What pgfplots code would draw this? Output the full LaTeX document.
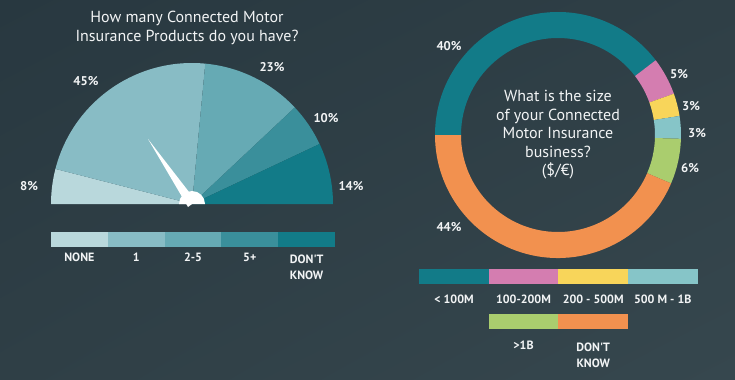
\documentclass[border=0pt]{standalone}
\usepackage{pgfplots}
\pgfplotsset{compat=1.18}
\usepackage{pgfplotstable}
\usetikzlibrary{shadings}
\usepackage{fontspec}
\setmainfont{PT Sans}
\definecolor{bgA}{HTML}{283840}
\definecolor{bgM}{HTML}{2F3F46}
\definecolor{bgB}{HTML}{36474E}
\definecolor{txt}{HTML}{F2F4F5}
\definecolor{g0}{HTML}{B9D8DC}
\definecolor{g1}{HTML}{88BCC5}
\definecolor{g2}{HTML}{66AAB4}
\definecolor{g3}{HTML}{3A8F9B}
\definecolor{g4}{HTML}{127B88}
\definecolor{d0}{HTML}{127B88}
\definecolor{d1}{HTML}{D47DB0}
\definecolor{d2}{HTML}{F8D55A}
\definecolor{d3}{HTML}{86C5C8}
\definecolor{d4}{HTML}{AACD6E}
\definecolor{d5}{HTML}{F2914F}
\tikzset{
  pct/.style={font=\bfseries\fontsize{9.5}{11}\selectfont, text=txt},
  leg/.style={font=\bfseries\fontsize{9}{12}\selectfont, text=txt, align=center},
  ttl/.style={font=\fontsize{12}{13.7}\selectfont, text=txt, align=center}}
\pgfplotstableread{
label value
NONE 8
1 45
2-5 23
5+ 10
DK 14
}\gaugedata
\pgfplotstableread{
label value
lt100M 40
100-200M 5
200-500M 3
500M-1B 3
gt1B 6
DK 44
}\donutdata
\begin{document}
\begin{tikzpicture}
\shade[upper left=bgA, lower right=bgB, upper right=bgM, lower left=bgM] (0,0) rectangle (551.25pt,284.25pt);
\useasboundingbox (0,0) rectangle (551.25pt,284.25pt);
\begin{axis}[at={(0,0)}, anchor=south west, x=0.75pt, y=0.75pt,
  xmin=0, xmax=735, ymin=0, ymax=379, hide axis, clip=false]
% ---- gauge ----
\pgfmathsetmacro\start{180}
\pgfplotsforeachungrouped \i in {0,...,4}{
  \pgfplotstablegetelem{\i}{value}\of\gaugedata
  \pgfmathsetmacro\dlt{-1.8*\pgfplotsretval}
  \edef\temp{\noexpand\fill[g\i] (axis cs:192,175) -- ++(\start:105.75pt) arc[start angle=\start, delta angle=\dlt, radius=105.75pt] -- cycle;}
  \temp
  \pgfmathsetmacro\start{\start+\dlt}
}
% needle and hub
\fill[white] (axis cs:148,240) -- (axis cs:196,178) -- (axis cs:188,172) -- cycle;
\fill[white] (axis cs:179,175) arc[start angle=180, end angle=0, radius=9.75pt] -- cycle;
% gauge labels
\node[pct] at (axis cs:29,193) {8\%};
\node[pct] at (axis cs:86,298) {45\%};
\node[pct] at (axis cs:272,312) {23\%};
\node[pct] at (axis cs:326,261) {10\%};
\node[pct] at (axis cs:351,193) {14\%};
\node[ttl] at (axis cs:187,351) {How many Connected Motor\\Insurance Products do you have?};
% gauge legend
\pgfplotsforeachungrouped \i in {0,...,4}{
  \pgfmathsetmacro\xa{51+56.8*\i}
  \pgfmathsetmacro\xb{51+56.8*(\i+1)}
  \edef\temp{\noexpand\fill[g\i] (axis cs:\xa,132.3) rectangle (axis cs:\xb,147);}
  \temp
}
\node[leg] at (axis cs:79.4,122) {NONE};
\node[leg] at (axis cs:136.2,122) {1};
\node[leg] at (axis cs:193,122) {2-5};
\node[leg] at (axis cs:249.8,122) {5+};
\node[leg, anchor=north] at (axis cs:306.6,129) {DON\textquotesingle T\\KNOW};
% ---- donut ----
\pgfmathsetmacro\start{180}
\pgfplotsforeachungrouped \i in {0,...,5}{
  \pgfplotstablegetelem{\i}{value}\of\donutdata
  \pgfmathsetmacro\dlt{-360/101*\pgfplotsretval}
  \pgfmathsetmacro\stop{\start+\dlt}
  \pgfmathsetmacro\ix{558+97*cos(\stop)}
  \pgfmathsetmacro\iy{244+97*sin(\stop)}
  \pgfmathsetmacro\bck{-\dlt}
  \edef\temp{\noexpand\fill[d\i] (axis cs:558,244) ++(\start:92.25pt) arc[start angle=\start, delta angle=\dlt, radius=92.25pt] -- (axis cs:\ix,\iy) arc[start angle=\stop, delta angle=\bck, radius=72.75pt] -- cycle;}
  \temp
  \pgfmathsetmacro\start{\stop}
}
\node[pct] at (axis cs:449,333) {40\%};
\node[pct] at (axis cs:679,305) {5\%};
\node[pct] at (axis cs:691,273) {3\%};
\node[pct] at (axis cs:697,246) {3\%};
\node[pct] at (axis cs:690,211) {6\%};
\node[pct] at (axis cs:449,152) {44\%};
\node[ttl, font=\fontsize{12}{13.9}\selectfont] at (axis cs:558,244) {What is the size\\of your Connected\\Motor Insurance\\business?\\(\$/€)};
% donut legend
\pgfplotsforeachungrouped \i in {0,...,3}{
  \pgfmathsetmacro\xa{419+69.7*\i}
  \pgfmathsetmacro\xb{419+69.7*(\i+1)}
  \edef\temp{\noexpand\fill[d\i] (axis cs:\xa,95) rectangle (axis cs:\xb,109.7);}
  \temp
}
\fill[d4] (axis cs:488.7,50) rectangle (axis cs:558.4,65);
\fill[d5] (axis cs:558.4,50) rectangle (axis cs:628,65);
\node[leg] at (axis cs:454,79.7) {< 100M};
\node[leg] at (axis cs:523.5,79.7) {100-200M};
\node[leg] at (axis cs:593.2,79.7) {200 - 500M};
\node[leg] at (axis cs:662.8,79.7) {500 M - 1B};
\node[leg] at (axis cs:523.5,34) {>1B};
\node[leg, anchor=north] at (axis cs:593.2,41) {DON\textquotesingle T\\KNOW};
\end{axis}
\end{tikzpicture}
\end{document}
